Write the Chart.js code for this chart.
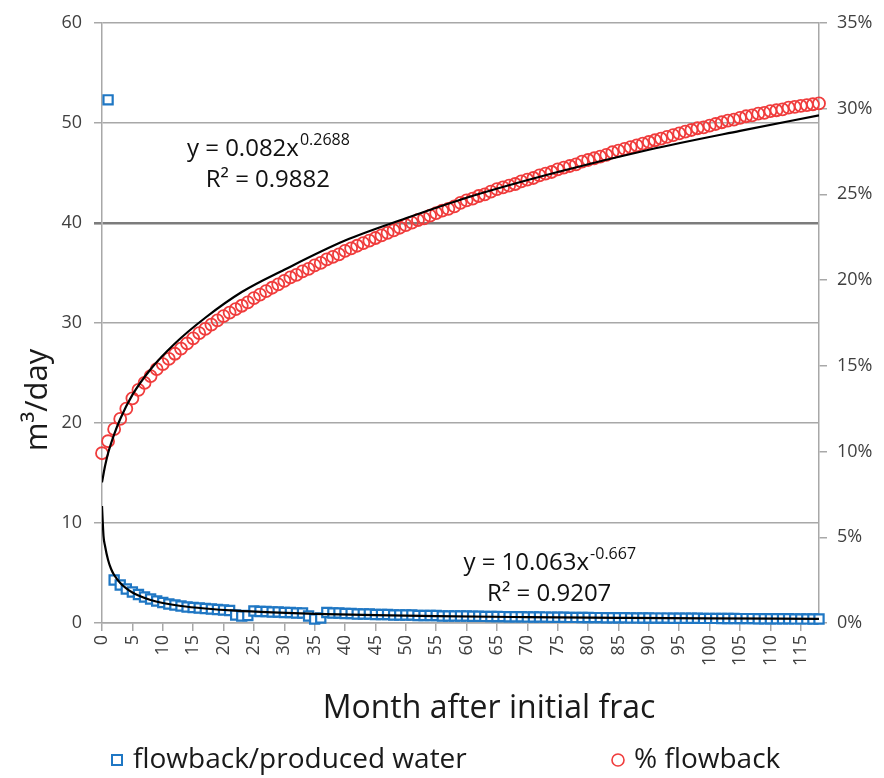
<!DOCTYPE html>
<html>
<head>
<meta charset="utf-8">
<script src="https://cdn.jsdelivr.net/npm/chart.js@4/dist/chart.umd.min.js"></script>
<style>
  html, body { margin: 0; padding: 0; background: #ffffff; }
  #wrap { width: 884px; height: 778px; position: relative; }
</style>
</head>
<body>
<div id="wrap"><canvas id="chart" width="884" height="778"></canvas></div>
<script>
// ---------------- data ----------------
const months = [0,1,2,3,4,5,6,7,8,9,10,11,12,13,14,15,16,17,18,19,20,21,22,23,24,25,26,27,28,29,30,31,32,33,34,35,36,37,38,39,40,41,42,43,44,45,46,47,48,49,50,51,52,53,54,55,56,57,58,59,60,61,62,63,64,65,66,67,68,69,70,71,72,73,74,75,76,77,78,79,80,81,82,83,84,85,86,87,88,89,90,91,92,93,94,95,96,97,98,99,100,101,102,103,104,105,106,107,108,109,110,111,112,113,114,115,116,117,118];

// flowback/produced water, m3/day (left axis)
const producedWater = [null,
  52.3, 4.3, 3.8, 3.4, 3.1, 2.85, 2.6, 2.4, 2.2, 2.05,
  1.9, 1.8, 1.7, 1.6, 1.55, 1.5, 1.45, 1.4, 1.35, 1.3,
  1.25, 0.8, 0.7, 0.75, 1.2, 1.15, 1.15, 1.1, 1.1, 1.05,
  1.05, 1.0, 1.0, 0.7, 0.4, 0.5, 1.05, 1.0, 1.0, 0.95,
  0.95, 0.9, 0.9, 0.9, 0.85, 0.85, 0.85, 0.8, 0.8, 0.8,
  0.8, 0.75, 0.75, 0.75, 0.75, 0.7, 0.7, 0.7, 0.7, 0.7,
  0.68, 0.67, 0.66, 0.65, 0.65, 0.64, 0.63, 0.62, 0.62, 0.61,
  0.6, 0.6, 0.59, 0.58, 0.58, 0.57, 0.56, 0.56, 0.55, 0.55,
  0.54, 0.54, 0.53, 0.53, 0.52, 0.52, 0.51, 0.51, 0.5, 0.5,
  0.49, 0.49, 0.49, 0.48, 0.48, 0.47, 0.47, 0.47, 0.46, 0.46,
  0.46, 0.45, 0.45, 0.45, 0.44, 0.44, 0.44, 0.43, 0.43, 0.43,
  0.42, 0.42, 0.42, 0.41, 0.41, 0.41, 0.4, 0.4];

// % flowback (right axis, percent)
const flowbackPct = [
  9.9, 10.6, 11.3, 11.9, 12.5, 13.1, 13.6, 14.0, 14.4, 14.8,
  15.1, 15.4, 15.7, 16.0, 16.3, 16.6, 16.9, 17.15, 17.4, 17.65,
  17.9, 18.1, 18.3, 18.5, 18.7, 18.95, 19.15, 19.35, 19.55, 19.75,
  19.95, 20.15, 20.3, 20.5, 20.65, 20.85, 21.0, 21.2, 21.35, 21.5,
  21.7, 21.85, 22.0, 22.15, 22.3, 22.45, 22.6, 22.75, 22.9, 23.05,
  23.2, 23.35, 23.5, 23.6, 23.75, 23.9, 24.05, 24.15, 24.3, 24.5,
  24.65, 24.75, 24.9, 25.0, 25.15, 25.3, 25.4, 25.5, 25.6, 25.75,
  25.85, 25.95, 26.1, 26.2, 26.3, 26.45, 26.55, 26.65, 26.75, 26.9,
  27.0, 27.1, 27.2, 27.3, 27.45, 27.55, 27.65, 27.75, 27.85, 27.95,
  28.05, 28.15, 28.25, 28.35, 28.45, 28.55, 28.65, 28.75, 28.85, 28.9,
  29.0, 29.1, 29.2, 29.3, 29.35, 29.45, 29.55, 29.6, 29.7, 29.75,
  29.85, 29.9, 29.95, 30.05, 30.1, 30.15, 30.2, 30.25, 30.3];

// power trendlines
const trendPctX   = [0, 0.5, 1, 2, 3, 5, 8, 12, 17, 23, 30, 40, 50, 60, 75, 90, 105, 118];
const trendPctY   = [8.2, 9.15, 9.9, 11.0, 11.9, 13.3, 14.8, 16.3, 17.8, 19.3, 20.6, 22.3, 23.6, 24.8, 26.3, 27.6, 28.7, 29.6];
const trendWaterX = [0, 0.25, 0.5, 1, 1.5, 2, 3, 4, 5, 6, 8, 10, 13, 17, 22, 28, 35, 45, 55, 70, 85, 100, 118];
const trendWaterY = [11.7, 8.7, 7.7, 6.3, 5.4, 4.8, 4.0, 3.45, 3.05, 2.75, 2.3, 2.0, 1.7, 1.45, 1.23, 1.06, 0.92, 0.78, 0.68, 0.59, 0.52, 0.46, 0.41];

const seriesNames = ['flowback/produced water', '% flowback'];
const leftTicks  = [0, 10, 20, 30, 40, 50, 60];
const rightTicks = [0, 5, 10, 15, 20, 25, 30, 35];
const equations = [
  { base: 'y = 0.082x', sup: '0.2688', r2: 'R\u00B2 = 0.9882', at: { x: 27.3, y: 47.5 } },
  { base: 'y = 10.063x', sup: '-0.667', r2: 'R\u00B2 = 0.9207', at: { x: 73.6, y: 6.1 } }
];

// ---------------- styling ----------------
const BLUE = '#1f77c4';
const RED = '#f03c3c';
const GRID = '#a8a8a8';
const TXT = '#404040';
const FONT = "'Open Sans', sans-serif";

const toXY = (xs, ys) => xs.map((x, i) => ({ x: x, y: ys[i] })).filter(p => p.y !== null && p.y !== undefined);

const extraText = {
  id: 'extraText',
  afterDraw(chart) {
    const ctx = chart.ctx;
    const xs = chart.scales.x, ys = chart.scales.y;
    ctx.save();
    // y axis title
    ctx.fillStyle = '#1a1a1a';
    ctx.translate(38, 400);
    ctx.rotate(-Math.PI / 2);
    ctx.font = '31px ' + FONT;
    ctx.textAlign = 'center';
    ctx.textBaseline = 'middle';
    ctx.fillText('m\u00B3/day', 0, 0);
    ctx.restore();

    ctx.save();
    // x axis title
    ctx.fillStyle = '#1a1a1a';
    ctx.font = '32px ' + FONT;
    ctx.textAlign = 'center';
    ctx.textBaseline = 'middle';
    ctx.fillText('Month after initial frac', 489, 709);

    // equations
    equations.forEach(eq => {
      const cx = xs.getPixelForValue(eq.at.x);
      const cy = ys.getPixelForValue(eq.at.y);
      ctx.textAlign = 'left';
      ctx.textBaseline = 'alphabetic';
      ctx.fillStyle = '#111';
      ctx.font = '24px ' + FONT;
      const wb = ctx.measureText(eq.base).width;
      ctx.font = '16px ' + FONT;
      const ws = ctx.measureText(eq.sup).width;
      const x0 = cx - (wb + ws) / 2;
      ctx.font = '24px ' + FONT;
      ctx.fillText(eq.base, x0, cy + 8);
      ctx.font = '16px ' + FONT;
      ctx.fillText(eq.sup, x0 + wb + 1, cy - 3);
      ctx.font = '24px ' + FONT;
      ctx.textAlign = 'center';
      ctx.fillText(eq.r2, cx, cy + 39);
    });

    // legend
    const ly = 760;
    const ds = chart.data.datasets;
    ctx.font = '28px ' + FONT;
    ctx.textAlign = 'left';
    ctx.textBaseline = 'middle';
    // square item
    ctx.lineWidth = 2;
    ctx.strokeStyle = ds[2].borderColor;
    ctx.fillStyle = '#fff';
    ctx.fillRect(112, ly - 5, 10, 10);
    ctx.strokeRect(112, ly - 5, 10, 10);
    ctx.fillStyle = '#1a1a1a';
    ctx.fillText(seriesNames[0], 133, ly);
    // circle item
    ctx.lineWidth = 1.6;
    ctx.strokeStyle = ds[3].borderColor;
    ctx.beginPath();
    ctx.arc(618, ly, 6, 0, Math.PI * 2);
    ctx.stroke();
    ctx.fillStyle = '#1a1a1a';
    ctx.fillText(seriesNames[1], 634, ly);
    ctx.restore();
  }
};

const chart = new Chart(document.getElementById('chart'), {
  type: 'scatter',
  data: {
    datasets: [
      {
        label: 'Power (flowback/produced water)',
        type: 'line',
        data: toXY(trendWaterX, trendWaterY),
        yAxisID: 'y',
        borderColor: '#000',
        borderWidth: 2.2,
        pointRadius: 0,
        fill: false,
        cubicInterpolationMode: 'monotone',
        order: 0
      },
      {
        label: 'Power (% flowback)',
        type: 'line',
        data: toXY(trendPctX, trendPctY),
        yAxisID: 'y2',
        borderColor: '#000',
        borderWidth: 2.2,
        pointRadius: 0,
        fill: false,
        cubicInterpolationMode: 'monotone',
        order: 0
      },
      {
        label: seriesNames[0],
        data: toXY(months, producedWater),
        yAxisID: 'y',
        pointStyle: 'rect',
        pointRadius: 6.5,
        borderColor: BLUE,
        backgroundColor: '#ffffff',
        pointBorderWidth: 2.2,
        showLine: false,
        clip: false,
        order: 2
      },
      {
        label: seriesNames[1],
        data: toXY(months, flowbackPct),
        yAxisID: 'y2',
        pointStyle: 'circle',
        pointRadius: 6,
        borderColor: RED,
        backgroundColor: 'rgba(255,255,255,0)',
        pointBorderWidth: 1.8,
        showLine: false,
        clip: false,
        order: 1
      }
    ]
  },
  options: {
    responsive: false,
    animation: false,
    devicePixelRatio: 1,
    layout: { padding: { top: 20, left: 0, right: 0, bottom: 0 } },
    plugins: {
      legend: { display: false },
      tooltip: { enabled: false }
    },
    scales: {
      x: {
        type: 'linear',
        min: 0,
        max: 118,
        afterFit: s => { s.height = 155; },
        ticks: {
          stepSize: 5,
          includeBounds: false,
          autoSkip: false,
          minRotation: 90,
          maxRotation: 90,
          padding: 4,
          color: TXT,
          font: { family: FONT, size: 18 }
        },
        grid: { drawOnChartArea: false, drawTicks: true, tickLength: 8, color: GRID, lineWidth: 1.5 },
        border: { display: true, color: GRID, width: 1.5 }
      },
      y: {
        position: 'left',
        min: 0,
        max: 60,
        afterFit: s => { s.width = 102; },
        afterBuildTicks: s => { s.ticks = leftTicks.map(v => ({ value: v })); },
        ticks: {
          padding: 12,
          color: TXT,
          font: { family: FONT, size: 18 }
        },
        grid: {
          color: c => (c.tick && c.tick.value === 40) ? '#7c7c7c' : GRID,
          lineWidth: c => (c.tick && c.tick.value === 40) ? 2.6 : 1.5,
          tickLength: 8
        },
        border: { display: true, color: GRID, width: 1.5 }
      },
      y2: {
        position: 'right',
        min: 0,
        max: 35,
        afterFit: s => { s.width = 65; },
        afterBuildTicks: s => { s.ticks = rightTicks.map(v => ({ value: v })); },
        ticks: {
          padding: 10,
          color: TXT,
          font: { family: FONT, size: 18 },
          callback: v => v + '%'
        },
        grid: { drawOnChartArea: false, tickLength: 8, color: GRID, lineWidth: 1.5 },
        border: { display: true, color: GRID, width: 1.5 }
      }
    }
  },
  plugins: [extraText]
});
</script>
</body>
</html>
